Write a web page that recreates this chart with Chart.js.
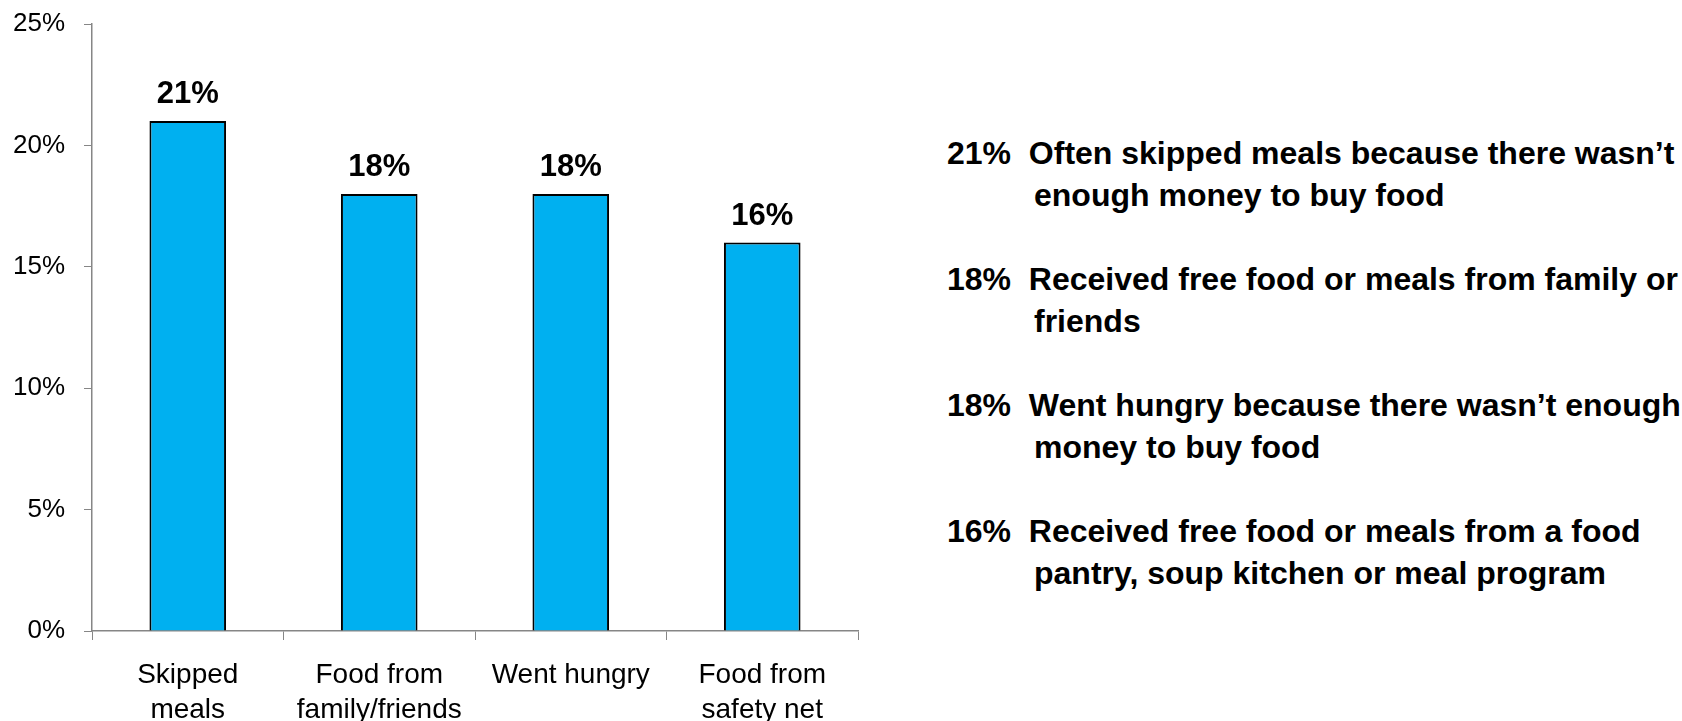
<!DOCTYPE html>
<html>
<head>
<meta charset="utf-8">
<title>Food hardship</title>
<script src="https://cdn.jsdelivr.net/npm/chart.js@4.4.1/dist/chart.umd.min.js"></script>
<style>
  html, body { margin: 0; padding: 0; background: #fff; }
  #page { position: relative; width: 1682px; height: 721px; overflow: hidden; }
  #chartBox { position: absolute; left: 0; top: 0; width: 880px; height: 721px; }
  #notes {
    position: absolute; left: 947px; top: 132px;
    font-family: "Liberation Sans", Arial, sans-serif;
    font-weight: bold; font-size: 32px; color: #000;
    white-space: pre;
  }
  #notes .line { height: 42px; line-height: 42px; }
  #notes .cont { padding-left: 87px; margin-bottom: 42px; }
</style>
</head>
<body>
<div id="page">
  <div id="chartBox"><canvas id="hardshipChart"></canvas></div>
  <div id="notes"></div>
</div>
<script>
const categories = [
    ['Skipped', 'meals'],
    ['Food from', 'family/friends'],
    ['Went hungry'],
    ['Food from', 'safety net']
];
const values = [21, 18, 18, 16];
const yTicks = [0, 5, 10, 15, 20, 25];
const descriptions = [
    ['Often skipped meals because there wasn’t', 'enough money to buy food'],
    ['Received free food or meals from family or', 'friends'],
    ['Went hungry because there wasn’t enough', 'money to buy food'],
    ['Received free food or meals from a food', 'pantry, soup kitchen or meal program']
];

const FONT = '"Liberation Sans", Arial, sans-serif';
const AXIS_GRAY = '#868686';

// notes on the right, one block per bar
const notes = document.getElementById('notes');
descriptions.forEach((lines, i) => {
    const first = document.createElement('div');
    first.className = 'line';
    first.textContent = values[i] + '%  ' + lines[0];
    const second = document.createElement('div');
    second.className = 'line cont';
    second.textContent = lines[1];
    notes.appendChild(first);
    notes.appendChild(second);
});

// value labels above each bar
const barLabels = {
    id: 'barLabels',
    afterDatasetsDraw(chart) {
        const ctx = chart.ctx;
        const meta = chart.getDatasetMeta(0);
        ctx.save();
        ctx.font = 'bold 31px ' + FONT;
        ctx.fillStyle = '#000';
        ctx.textAlign = 'center';
        ctx.textBaseline = 'alphabetic';
        meta.data.forEach((bar, i) => {
            ctx.fillText(values[i] + '%', bar.x, bar.y - 18);
        });
        ctx.restore();
    }
};

const ctx = document.getElementById('hardshipChart').getContext('2d');
const myChart = new Chart(ctx, {
    type: 'bar',
    data: {
        labels: categories,
        datasets: [{
            data: values,
            backgroundColor: '#00B0F0',
            borderColor: '#000',
            borderWidth: 2,
            categoryPercentage: 1,
            barPercentage: 0.4
        }]
    },
    options: {
        responsive: true,
        maintainAspectRatio: false,
        animation: false,
        layout: { padding: { top: 24, right: 22, left: 0, bottom: 0 } },
        plugins: {
            legend: { display: false },
            tooltip: { enabled: false }
        },
        scales: {
            x: {
                grid: {
                    offset: true,
                    drawOnChartArea: false,
                    drawTicks: true,
                    tickLength: 9,
                    color: AXIS_GRAY
                },
                border: { display: true, color: AXIS_GRAY, width: 1.5 },
                ticks: {
                    color: '#000',
                    padding: 17,
                    maxRotation: 0,
                    font: { family: FONT, size: 28, lineHeight: 1.28 }
                },
                afterFit(scale) { scale.height = 90; }
            },
            y: {
                min: 0,
                max: 25,
                afterBuildTicks(scale) {
                    scale.ticks = yTicks.map(v => ({ value: v }));
                },
                grid: {
                    drawOnChartArea: false,
                    drawTicks: true,
                    tickLength: 8,
                    color: AXIS_GRAY
                },
                border: { display: true, color: AXIS_GRAY, width: 1.5 },
                ticks: {
                    color: '#000',
                    padding: 19,
                    font: { family: FONT, size: 26 },
                    callback: v => v + '%'
                },
                afterFit(scale) {
                    scale.width = 92;
                    // tick padding is horizontal only here; keep it off the top/bottom
                    scale.paddingTop = 0;
                    scale.paddingBottom = 0;
                }
            }
        }
    },
    plugins: [barLabels]
});
</script>
</body>
</html>
